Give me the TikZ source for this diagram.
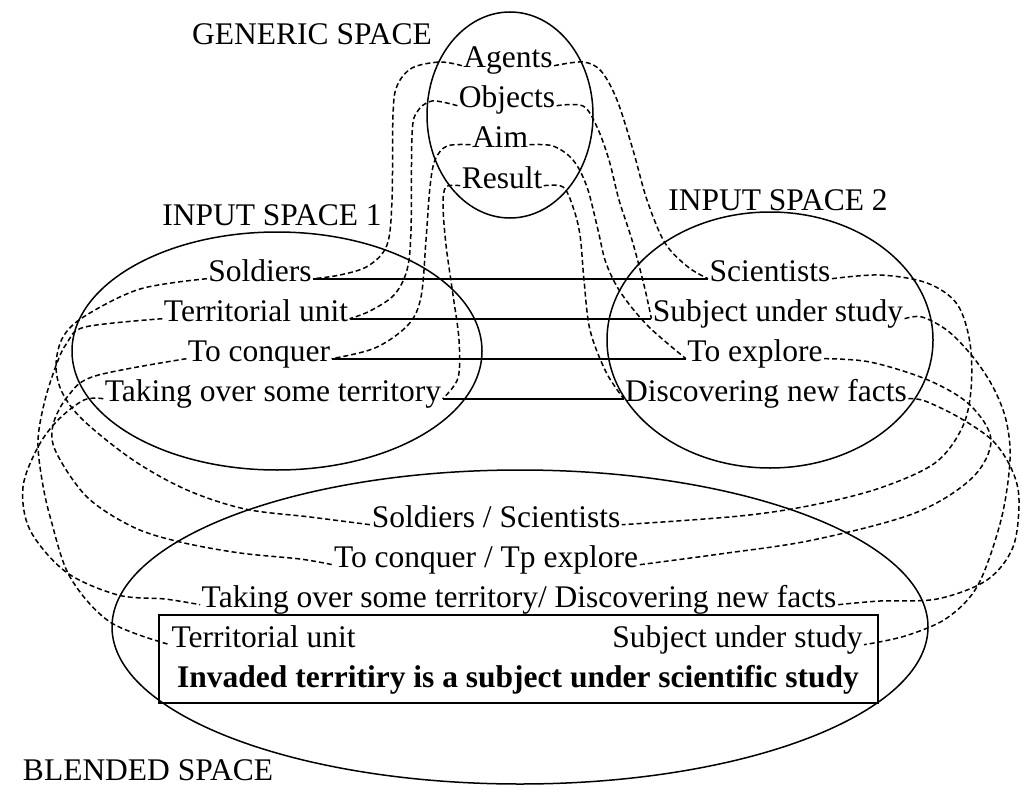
\documentclass[tikz,border=0pt]{standalone}
\usepackage{fontspec}
\setmainfont{Liberation Serif}
\usetikzlibrary{shapes.geometric}
\begin{document}
\begin{tikzpicture}[x=1pt,y=-1pt,
  txt/.style={font=\fontsize{31.5}{38}\selectfont, inner sep=1.5pt, outer sep=0pt, anchor=base},
  space/.style={draw, ellipse, line width=1.5pt, inner sep=0pt},
  link/.style={line width=1.5pt, dash pattern=on 5pt off 3pt},
  map/.style={line width=1.6pt},
  curve/.style={smooth, tension=0.55}
]
\useasboundingbox (0,0) rectangle (1022,789);

% the four mental spaces
\node[space, minimum width=166pt, minimum height=206pt] (gen) at (510,115) {};
\node[space, minimum width=410pt, minimum height=238pt] (in1) at (277,351) {};
\node[space, minimum width=326pt, minimum height=256pt] (in2) at (770,340) {};
\node[space, minimum width=816pt, minimum height=314pt] (bl) at (520,627) {};
\node[draw, line width=1.5pt, minimum width=719pt, minimum height=88pt, inner sep=0pt] (box) at (518.5,659) {};

% space titles
\node[txt] (tgen) at (312,45) {GENERIC SPACE};
\node[txt] (tin1) at (272,225) {INPUT SPACE 1};
\node[txt] (tin2) at (778,210) {INPUT SPACE 2};
\node[txt, inner sep=0pt] (tbl) at (148,780) {BLENDED SPACE};

% generic space
\node[txt] (ag) at (508,68) {Agents};
\node[txt] (ob) at (507,108) {Objects};
\node[txt] (aim) at (500,147) {Aim};
\node[txt] (res) at (502,188) {Result};

% input space 1
\node[txt] (sol) at (260,281) {Soldiers};
\node[txt] (ter) at (256,321) {Territorial unit};
\node[txt] (conq) at (259,361) {To conquer};
\node[txt] (tak) at (273,401) {Taking over some territory};

% input space 2
\node[txt] (sci) at (770,281) {Scientists};
\node[txt] (subj) at (778,321) {Subject under study};
\node[txt] (expl) at (755,361) {To explore};
\node[txt] (disc) at (766,401) {Discovering new facts};

% blended space
\node[txt] (ss) at (496,527) {Soldiers / Scientists};
\node[txt] (ct) at (486,567) {To conquer / Tp explore};
\node[txt] (td) at (519,607) {Taking over some territory/ Discovering new facts};
\node[txt, anchor=base west] (tub) at (170,647) {Territorial unit};
\node[txt, anchor=base east] (sub) at (864,647) {Subject under study};
\node[txt, font=\fontsize{31.5}{38}\selectfont\bfseries] (emerg) at (518,687) {Invaded territiry is a subject under scientific study};

% cross-space mappings
\draw[map] (sol.mid east) -- (sci.mid west);
\draw[map] (ter.mid east) -- (subj.mid west);
\draw[map] (conq.mid east) -- (expl.mid west);
\draw[map] (tak.mid east) -- (disc.mid west);

% generic space -> input space 1
\draw[link] plot[curve] coordinates {(ag.mid west) (440,62) (412,68) (397,86) (393,115) (392,200) (387,245) (368,266) (340,275) (sol.mid east)};
\draw[link] plot[curve] coordinates {(ob.mid west) (432,101) (417,112) (412,135) (411,230) (407,270) (394,295) (370,311) (ter.mid east)};
\draw[link] plot[curve] coordinates {(aim.mid west) (447,146) (435,160) (430,187) (426,240) (421,297) (408,325) (375,348) (conq.mid east)};
\draw[link] plot[curve] coordinates {(res.mid west) (446,187) (443,205) (446,245) (453,295) (459,340) (458,378) (tak.mid east)};

% generic space -> input space 2
\draw[link] plot[curve] coordinates {(ag.mid east) (583,62) (601,71) (617,100) (633,150) (647,200) (665,243) (688,267) (sci.mid west)};
\draw[link] plot[curve] coordinates {(ob.mid east) (583,106) (597,127) (609,160) (619,200) (632,240) (644,285) (subj.mid west)};
\draw[link] plot[curve] coordinates {(aim.mid east) (553,146) (573,160) (587,187) (598,230) (606,263) (621,293) (648,326) (expl.mid west)};
\draw[link] plot[curve] coordinates {(res.mid east) (563,187) (573,207) (580,235) (584,280) (590,330) (606,372) (disc.mid west)};

% input space 1 -> blended space
\draw[link] plot[curve] coordinates {(sol.mid west) (140,289) (85,316) (63,337) (56,365) (62,392) (83,420) (133,460) (187,490) (245,509) (310,517) (ss.mid west)};
\draw[link] plot[curve] coordinates {(ter.mid west) (85,327) (67,343) (57,363) (45,400) (38,440) (42,480) (51,520) (70,577) (110,622) (tub.mid west)};
\draw[link] plot[curve] coordinates {(conq.mid west) (95,376) (68,396) (53,425) (56,452) (87,497) (133,527) (180,542) (240,553) (300,559) (ct.mid west)};
\draw[link] plot[curve] coordinates {(tak.mid west) (84,400) (58,420) (38,447) (23,487) (30,530) (66,572) (118,595) (165,599) (td.mid west)};

% input space 2 -> blended space
\draw[link] plot[curve] coordinates {(sci.mid east) (880,275) (927,283) (957,304) (970,343) (971,390) (962,428) (935,463) (880,488) (813,505) (740,516) (ss.mid east)};
\draw[link] plot[curve] coordinates {(subj.mid east) (922,317) (948,331) (973,357) (993,387) (1006,420) (1010,460) (1001,520) (978,585) (947,618) (905,636) (sub.mid east)};
\draw[link] plot[curve] coordinates {(expl.mid east) (870,362) (928,380) (970,405) (991,440) (972,478) (915,513) (813,540) (720,554) (ct.mid east)};
\draw[link] plot[curve] coordinates {(disc.mid east) (925,401) (960,418) (993,441) (1012,470) (1019,500) (1013,547) (987,580) (937,599) (880,601) (td.mid east)};
\end{tikzpicture}
\end{document}
